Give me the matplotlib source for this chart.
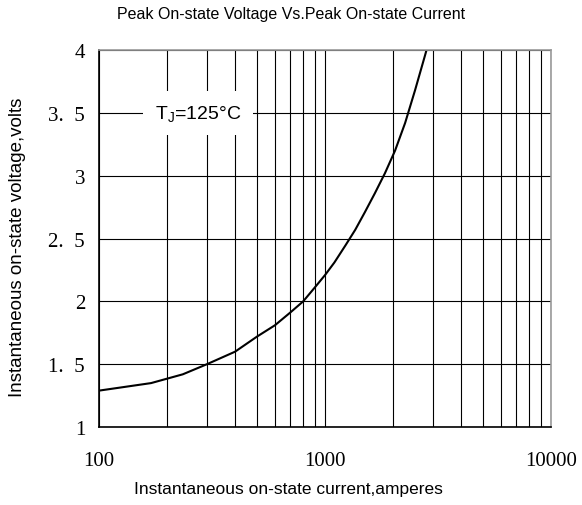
import numpy as np
import matplotlib
matplotlib.use("Agg")
import matplotlib.pyplot as plt
from matplotlib.ticker import LogLocator, FixedLocator, NullFormatter

# curve
current = [100, 170, 235, 300, 400, 500, 600, 700, 800, 900, 1000,
           1100, 1230, 1360, 1500, 1660, 1840, 2040, 2260, 2500, 2770, 2850]
voltage = [1.29, 1.35, 1.42, 1.50, 1.60, 1.72, 1.81, 1.91, 2.00, 2.11, 2.21,
           2.31, 2.445, 2.57, 2.71, 2.86, 3.02, 3.20, 3.42, 3.68, 3.96, 4.04]

x_ticks = [100, 1000, 10000]
x_labels = ["100", "1000", "10000"]
y_ticks = [1, 1.5, 2, 2.5, 3, 3.5, 4]
y_labels = ["1", "1.  5", "2", "2.  5", "3", "3.  5", "4"]

plt.rcParams["font.family"] = "Liberation Sans"
plt.rcParams["mathtext.default"] = "regular"

fig = plt.figure(figsize=(5.82, 5.06), dpi=100)
ax = fig.add_axes([0.170, 0.154, 0.777, 0.745])

ax.plot(current, voltage, color="black", lw=1.5, zorder=3)

ax.set_xscale("log")
ax.set_xlim(100, 10000)
ax.set_ylim(1, 4)
ax.xaxis.set_major_locator(FixedLocator(x_ticks))
ax.xaxis.set_minor_locator(LogLocator(base=10, subs=np.arange(2, 10)))
ax.xaxis.set_minor_formatter(NullFormatter())
ax.set_xticks(x_ticks)
ax.set_xticklabels(x_labels, family="Liberation Serif", fontsize=15)
ax.set_yticks(y_ticks)
ax.set_yticklabels(y_labels, family="Liberation Serif", fontsize=15)
ax.tick_params(which="both", length=0, pad=10)
ax.tick_params(axis="x", pad=17)

ax.grid(which="major", color="black", lw=0.8)
ax.grid(which="minor", axis="x", color="black", lw=0.8)

for side in ["top", "right"]:
    ax.spines[side].set_color("#999999")
for side in ["left", "bottom"]:
    ax.spines[side].set_color("black")
for s in ax.spines.values():
    s.set_linewidth(1.2)
    s.set_zorder(4)

ax.text(274, 3.5, r"T$_{J}$=125°C", fontsize=14, ha="center", va="center",
        bbox=dict(boxstyle="square,pad=0.6", facecolor="white", edgecolor="none"),
        zorder=5)

fig.text(291 / 582, 1 - 15 / 506, "Peak On-state Voltage Vs.Peak On-state Current",
         fontsize=11.5, ha="center", va="center")
fig.text(288 / 582, 1 - 490 / 506, "Instantaneous on-state current,amperes",
         fontsize=12.5, ha="center", va="center")
fig.text(18 / 582, 1 - 397 / 506, "Instantaneous on-state voltage,volts",
         fontsize=13.5, ha="center", va="bottom", rotation=90)

fig.savefig("out.png", dpi=100)
